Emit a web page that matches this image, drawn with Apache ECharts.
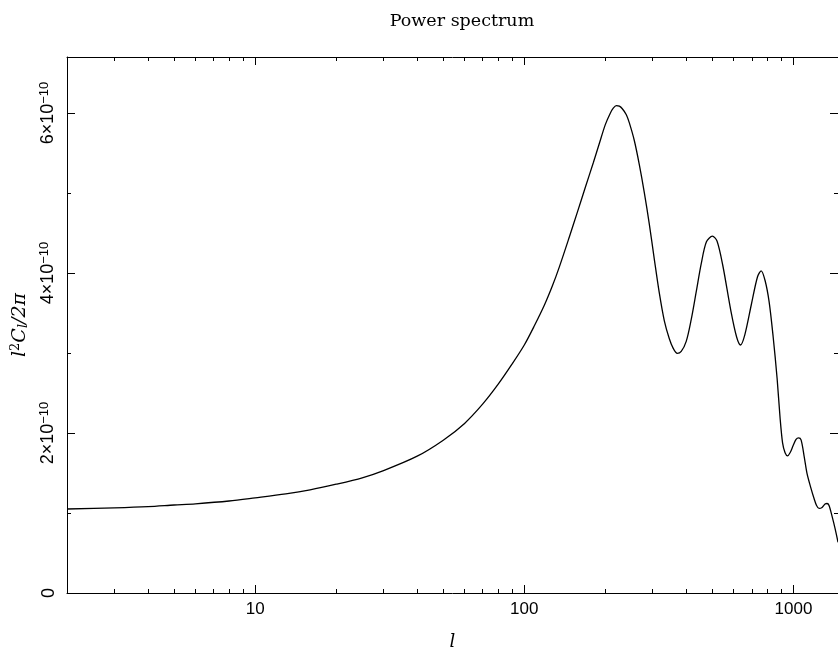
<!DOCTYPE html>
<html>
<head>
<meta charset="utf-8">
<script src="https://cdn.jsdelivr.net/npm/echarts@6/dist/echarts.min.js"></script>
<style>html,body{margin:0;padding:0;background:#fff;}#c{width:838px;height:656px;}</style>
</head>
<body>
<div id="c"></div>
<script>
// multipole moments l
const ells = [2,3,4,5,6,8,10,13,16,20,25,30,40,50,60,70,80,90,100,109,118.8,127.2,135,147,157.5,168.6,180.6,190,200,208.7,214.1,219.7,225.5,231.3,239.4,245.5,256.3,267.4,279.1,291.4,304,317.3,331.2,345.6,357.6,370,382.9,399.6,417,435.2,454.2,475,500,520,546,586,615,636,660,697,735,758.5,784.9,812,840.4,869.5,892,911.2,930.9,951.1,971.6,996.7,1022.6,1044.8,1067.4,1095.1,1123.5,1159.8,1192.9,1218.7,1245.1,1277.4,1310.5,1333,1356.1,1394.8,1427.3,1464.4];
// l^2 C_l / 2pi in units of 1e-10
const power = [1.05,1.065,1.08,1.10,1.115,1.15,1.19,1.24,1.29,1.36,1.44,1.53,1.71,1.91,2.12,2.36,2.61,2.86,3.10,3.34,3.60,3.84,4.077,4.450,4.761,5.071,5.382,5.618,5.855,5.998,6.06,6.091,6.085,6.053,5.979,5.879,5.656,5.358,5.009,4.612,4.177,3.754,3.406,3.182,3.058,2.996,3.020,3.145,3.418,3.763,4.114,4.39,4.46,4.40,4.10,3.52,3.20,3.10,3.23,3.60,3.95,4.027,3.903,3.642,3.207,2.685,2.188,1.877,1.753,1.715,1.753,1.840,1.920,1.939,1.914,1.715,1.492,1.318,1.181,1.094,1.057,1.069,1.112,1.119,1.094,0.945,0.808,0.634];
const xMajorTicks = [10,100,1000];
const xMinorTicks = [3,4,5,6,7,8,9,20,30,40,50,60,70,80,90,200,300,400,500,600,700,800,900];
const yMajorTicks = [0,2,4,6];
const yMinorTicks = [1,3,5];
const xRange = [2,1464];
const yRange = [0,6.7];

const black = '#000';
const supRich = {
  n: {fontFamily: 'Liberation Sans', fontSize: 18, color: black},
  s: {fontFamily: 'Liberation Sans', fontSize: 13, color: black, verticalAlign: 'top', padding: [0,0,7,0]}
};
function yLabel(v) {
  const k = Math.round(v);
  if (k === 0) return '{n|0}';
  return '{n|' + k + '\u00d710}{s|\u221210}';
}
function xAxisDef(pos, ticks, len, withLine, withLabel) {
  return {
    type: 'log', min: xRange[0], max: xRange[1], position: pos,
    axisLine: {show: withLine, onZero: false, lineStyle: {color: black, width: 1}},
    axisTick: {show: true, inside: true, length: len, customValues: ticks, lineStyle: {color: black, width: 1}},
    axisLabel: withLabel ? {show: true, customValues: ticks, margin: 8, color: black, fontFamily: 'Liberation Sans', fontSize: 17, formatter: v => String(Math.round(v))} : {show: false},
    splitLine: {show: false}, minorTick: {show: false}, minorSplitLine: {show: false}
  };
}
function yAxisDef(pos, ticks, len, withLine, withLabel) {
  return {
    type: 'value', min: yRange[0], max: yRange[1], position: pos,
    axisLine: {show: withLine, onZero: false, lineStyle: {color: black, width: 1}},
    axisTick: {show: true, inside: true, length: len, customValues: ticks, lineStyle: {color: black, width: 1}},
    axisLabel: withLabel ? {show: true, customValues: ticks, rotate: 90, margin: 9, color: black, formatter: yLabel, rich: supRich} : {show: false},
    splitLine: {show: false}
  };
}
const xAxes = [
  Object.assign(xAxisDef('bottom', xMajorTicks, 8, true, true), {
    name: 'l', nameLocation: 'middle', nameGap: 40,
    nameTextStyle: {fontFamily: 'DejaVu Serif', fontStyle: 'italic', fontSize: 18, color: black}
  }),
  xAxisDef('bottom', xMinorTicks, 4, false, false),
  xAxisDef('top', xMajorTicks, 8, true, false),
  xAxisDef('top', xMinorTicks, 4, false, false)
];
const yAxes = [
  Object.assign(yAxisDef('left', yMajorTicks, 8, true, true), {
    name: '{a|l}{sup|2}{a|C}{sub|l}{a|/2\u03c0}', nameLocation: 'middle', nameGap: 34, nameRotate: 90,
    nameTextStyle: {
      color: black,
      rich: {
        a: {fontFamily: 'DejaVu Serif', fontStyle: 'italic', fontSize: 19, color: black},
        sup: {fontFamily: 'DejaVu Serif', fontSize: 13, color: black, verticalAlign: 'top', padding: [0,0,8,0]},
        sub: {fontFamily: 'DejaVu Serif', fontStyle: 'italic', fontSize: 13, color: black, verticalAlign: 'bottom', padding: [6,0,0,0]}
      }
    }
  }),
  yAxisDef('left', yMinorTicks, 4, false, false),
  yAxisDef('right', yMajorTicks, 8, true, false),
  yAxisDef('right', yMinorTicks, 4, false, false)
];
const chart = echarts.init(document.getElementById('c'), null, {renderer: 'canvas'});
chart.setOption({
  animation: false,
  backgroundColor: '#fff',
  title: {
    text: 'Power spectrum', left: 457, top: 7, textAlign: 'center',
    textStyle: {fontFamily: 'DejaVu Serif', fontWeight: 'normal', fontSize: 17.5, color: black}
  },
  grid: {left: 67, top: 57, right: -1, bottom: 60, containLabel: false},
  xAxis: xAxes,
  yAxis: yAxes,
  series: [{
    type: 'line', xAxisIndex: 0, yAxisIndex: 0,
    data: ells.map((l, i) => [l, power[i]]),
    showSymbol: false, smooth: 0.3,
    lineStyle: {color: black, width: 1.3},
    clip: true
  }]
});
</script>
</body>
</html>
